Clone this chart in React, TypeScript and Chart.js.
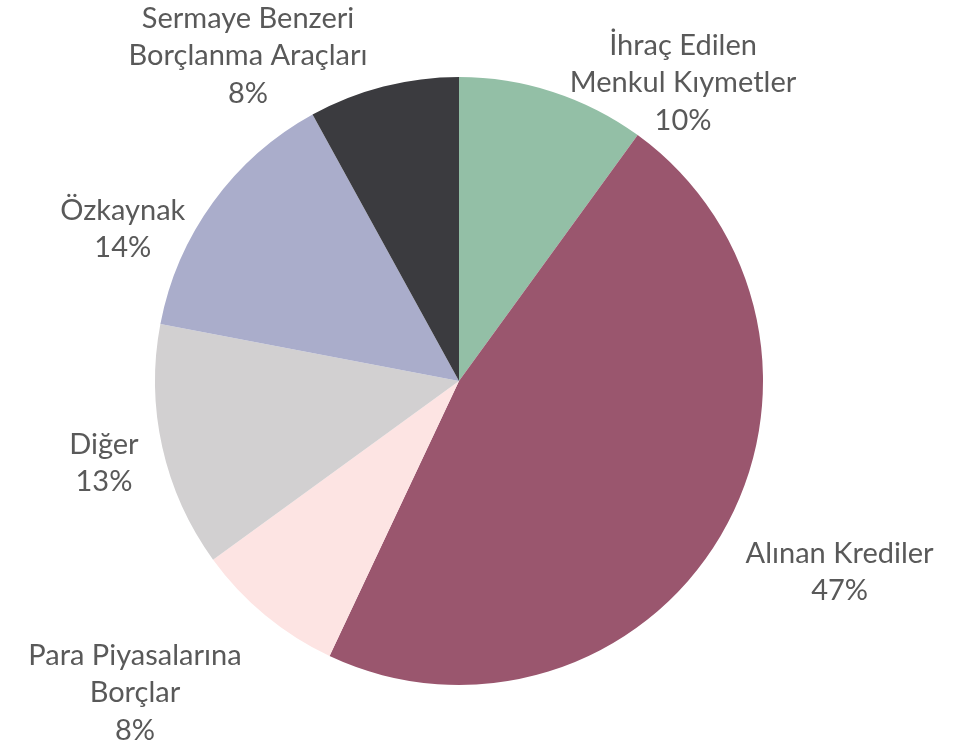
import React, { useEffect, useRef } from "react";
import { Chart, registerables } from "chart.js";

Chart.register(...registerables);

const categories = [
  "İhraç Edilen\nMenkul Kıymetler",
  "Alınan Krediler",
  "Para Piyasalarına\nBorçlar",
  "Diğer",
  "Özkaynak",
  "Sermaye Benzeri\nBorçlanma Araçları",
];
const values = [10, 47, 8, 13, 14, 8];
const colors = ["#93BFA6", "#9A566E", "#FDE4E3", "#D2D0D1", "#AAADCB", "#3B3B3F"];
// label block centre, relative to pie centre, in units of the radius
const labelOffsets: [number, number][] = [
  [0.737, -0.984],
  [1.252, 0.625],
  [-1.066, 1.023],
  [-1.168, 0.267],
  [-1.106, -0.503],
  [-0.694, -1.072],
];

const FONT_SIZE = 29;
const LINE_H = 37.5;
const TEXT_COLOR = "#595959";

const labelPlugin = {
  id: "outerLabels",
  afterDraw(chart: any) {
    const ctx = chart.ctx;
    const meta = chart.getDatasetMeta(0);
    const data = chart.data.datasets[0].data as number[];
    const total = data.reduce((a, b) => a + b, 0);
    ctx.save();
    ctx.font = `${FONT_SIZE}px Lato`;
    ctx.fillStyle = TEXT_COLOR;
    ctx.textAlign = "center";
    ctx.textBaseline = "alphabetic";
    const cap = FONT_SIZE * 0.716;
    meta.data.forEach((arc: any, i: number) => {
      const r = arc.outerRadius;
      const bx = arc.x + labelOffsets[i][0] * r;
      const by = arc.y + labelOffsets[i][1] * r;
      const lines = String(chart.data.labels[i]).split("\n");
      lines.push(Math.round((data[i] / total) * 100) + "%");
      const n = lines.length;
      lines.forEach((ln, k) => {
        const cyLine = by + (k - (n - 1) / 2) * LINE_H;
        ctx.fillText(ln, bx, cyLine + cap / 2);
      });
    });
    ctx.restore();
  },
};

export default function App() {
  const ref = useRef<HTMLCanvasElement | null>(null);
  useEffect(() => {
    if (!ref.current) return;
    const chart = new Chart(ref.current, {
      type: "pie",
      data: {
        labels: categories,
        datasets: [
          {
            data: values,
            backgroundColor: colors,
            borderWidth: 0,
            hoverOffset: 0,
          },
        ],
      },
      options: {
        responsive: false,
        animation: false,
        devicePixelRatio: 1,
        layout: { padding: { left: 155, right: 216, top: 77, bottom: 61 } },
        plugins: {
          legend: { display: false },
          tooltip: { enabled: false },
        },
      },
      plugins: [labelPlugin],
    });
    return () => chart.destroy();
  }, []);
  return (
    <div style={{ position: "absolute", left: 0, top: 0, width: 979, height: 746, background: "#fff" }}>
      <canvas ref={ref} width={979} height={746} />
    </div>
  );
}
